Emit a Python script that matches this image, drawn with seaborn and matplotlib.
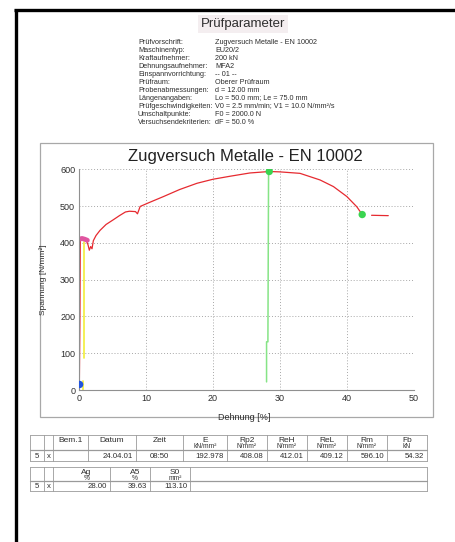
import numpy as np
import pandas as pd
import matplotlib
matplotlib.use("Agg")
import matplotlib.pyplot as plt
import seaborn as sns
from matplotlib.patches import Rectangle

sns.set_style("white")
plt.rcParams['font.family'] = ['Liberation Sans', 'DejaVu Sans']

# --- test parameters (header block) ---
param_labels = ["Prüfvorschrift:", "Maschinentyp:", "Kraftaufnehmer:", "Dehnungsaufnehmer:",
                "Einspannvorrichtung:", "Prüfraum:", "Probenabmessungen:", "Längenangaben:",
                "Prüfgeschwindigkeiten:", "Umschaltpunkte:", "Versuchsendekriterien:"]
param_values = ["Zugversuch Metalle - EN 10002", "EU20/2", "200 kN", "MFA2", "-- 01 --",
                "Oberer Prüfraum", "d = 12.00 mm", "Lo = 50.0 mm; Le = 75.0 mm",
                "V0 = 2.5 mm/min; V1 = 10.0 N/mm²/s", "F0 = 2000.0 N", "dF = 50.0 %"]

# --- stress-strain curve ---
strain_main = [0.0, 0.1, 0.15, 0.5, 1.0, 1.3, 1.5, 1.7, 1.9, 2.1, 2.5, 3.1, 4.0, 5.1, 6.0, 6.9,
               7.5, 8.4, 8.7, 9.1, 10.5, 12.6, 15.0, 17.6, 20.0, 22.5, 25.5, 28.4, 30.0, 33.0,
               36.0, 38.0, 40.0, 41.5, 42.3]
stress_main = [0, 200, 408, 410, 409, 395, 380, 390, 384, 406, 420, 434, 450, 463, 474, 484,
               486, 485, 479, 499, 510, 526, 545, 562, 573, 581, 590, 594, 593, 589,
               571, 553, 526, 498, 477]
strain_tail = [43.7, 46.2]
stress_tail = [475, 474]

strain_pink = [0.05, 0.4, 0.8, 1.2]
stress_pink = [410, 412, 410, 407]

strain_yellow = [0.7, 0.7]
stress_yellow = [403, 87]
strain_yellow2 = [0.6, 0.6]
stress_yellow2 = [0, 25]

strain_green = [28.3, 28.2, 28.0, 28.0]
stress_green = [594, 131, 131, 22]

strain_points = [28.4, 42.3]
stress_points = [594, 477]
strain_start = [0.05]
stress_start = [15]

x_ticks = [0, 10, 20, 30, 40, 50]
y_ticks = [0, 100, 200, 300, 400, 500, 600]

# --- result tables ---
t1_head = ["", "", "Bem.1", "Datum", "Zeit", "E", "Rp2", "ReH", "ReL", "Rm", "Fb"]
t1_units = ["", "", "", "", "", "kN/mm²", "N/mm²", "N/mm²", "N/mm²", "N/mm²", "kN"]
t1_row = ["5", "x", "", "24.04.01", "08:50", "192.978", "408.08", "412.01", "409.12", "596.10", "54.32"]
t2_head = ["", "", "Ag", "A5", "S0", ""]
t2_units = ["", "", "%", "%", "mm²", ""]
t2_row = ["5", "x", "28.00", "39.63", "113.10", ""]

W, H = 455, 542
fig = plt.figure(figsize=(W / 100, H / 100), dpi=100)

# background layer in pixel coordinates
bg = fig.add_axes([0, 0, 1, 1])
bg.set_xlim(0, W)
bg.set_ylim(H, 0)
bg.axis("off")

txt = "#2e2e2e"
# page border from the scan
bg.plot([14, W], [9.5, 9.5], color="black", lw=2.4, solid_capstyle="butt")
bg.plot([15.5, 15.5], [9, H], color="black", lw=2.4, solid_capstyle="butt")

bg.text(243, 24, "Prüfparameter", ha="center", va="center", fontsize=9.5, color=txt,
        bbox=dict(boxstyle="square,pad=0.25", fc="#f4eef0", ec="none"))
for i, (lab, val) in enumerate(zip(param_labels, param_values)):
    y = 42 + 8 * i
    bg.text(138, y, lab, ha="left", va="center", fontsize=5.2, color=txt)
    bg.text(215, y, val, ha="left", va="center", fontsize=5.2, color=txt)

# chart frame
bg.add_patch(Rectangle((40, 143), 393, 274, fill=False, ec="#a8a8a8", lw=0.9))

# tables
lc = "#9a9a9a"


def draw_table(edges, top, mid, bottom, head, units, row, aligns, hshift=0):
    bg.plot([edges[0], edges[-1]], [top, top], color=lc, lw=0.6)
    bg.plot([edges[0], edges[-1]], [mid, mid], color=lc, lw=0.9)
    bg.plot([edges[0], edges[-1]], [bottom, bottom], color=lc, lw=0.6)
    for e in edges:
        bg.plot([e, e], [top, bottom], color=lc, lw=0.6)
    for j in range(len(head)):
        cx = (edges[j] + edges[j + 1]) / 2
        bg.text(cx + hshift, top + 5, head[j], ha="center", va="center", fontsize=6, color=txt)
        bg.text(cx + hshift, top + 12, units[j], ha="center", va="center", fontsize=4.8, color=txt)
        ry = (mid + bottom) / 2 + 0.5
        if aligns[j] == "r":
            bg.text(edges[j + 1] - 3, ry, row[j], ha="right", va="center", fontsize=5.6, color=txt)
        else:
            bg.text(cx, ry, row[j], ha="center", va="center", fontsize=5.6, color=txt)


t1_edges = [30, 44, 53, 88, 136, 183, 227, 267, 307, 347, 387, 427]
draw_table(t1_edges, 435, 450, 461, t1_head, t1_units, t1_row,
           ["c", "c", "c", "r", "c", "r", "r", "r", "r", "r", "r"])
t2_edges = [30, 44, 53, 110, 150, 190, 427]
draw_table(t2_edges, 467, 481, 491, t2_head, t2_units, t2_row,
           ["c", "c", "r", "r", "r", "c"], hshift=5)

# --- the diagram ---
x0, x1, y0, y1 = 79.3, 413.7, 390.0, 169.3
ax = fig.add_axes([x0 / W, 1 - y0 / H, (x1 - x0) / W, (y0 - y1) / H])
ax.patch.set_alpha(0)

red = "#e62a30"
sns.lineplot(x=strain_main, y=stress_main, sort=False, estimator=None, color=red, lw=0.9, ax=ax)
sns.lineplot(x=strain_tail, y=stress_tail, sort=False, estimator=None, color=red, lw=0.9, ax=ax)
sns.lineplot(x=strain_yellow, y=stress_yellow, sort=False, estimator=None, color="#f2ee3a", lw=1.2, ax=ax)
sns.lineplot(x=strain_yellow2, y=stress_yellow2, sort=False, estimator=None, color="#f2ee3a", lw=1.2, ax=ax)
sns.lineplot(x=strain_green, y=stress_green, sort=False, estimator=None, color="#86e486", lw=1.1, ax=ax)
sns.lineplot(x=strain_pink, y=stress_pink, sort=False, estimator=None, color="#e055a0", lw=3.5, ax=ax)
sns.scatterplot(x=strain_points, y=stress_points, color="#3ad450", s=28, edgecolor="none", ax=ax, zorder=5)
sns.scatterplot(x=strain_start, y=stress_start, color="#2255dd", s=28, edgecolor="none", ax=ax, zorder=5)

ax.set_xlim(0, 50)
ax.set_ylim(0, 600)
ax.set_xticks(x_ticks)
ax.set_yticks(y_ticks)
ax.grid(True, linestyle=(0, (1, 2)), color="#a8a8a8", lw=0.7)
ax.tick_params(length=0, labelsize=6.5, labelcolor=txt, pad=3)
for s in ["top", "right"]:
    ax.spines[s].set_visible(False)
for s in ["left", "bottom"]:
    ax.spines[s].set_color("#909090")
    ax.spines[s].set_linewidth(0.8)

ax.set_xlabel("Dehnung [%]", fontsize=6.5, color=txt)
ax.set_ylabel("Spannung [N/mm²]", fontsize=6, color=txt)
ax.xaxis.set_label_coords((244 - x0) / (x1 - x0), -(413 - y0) / (y0 - y1))
ax.yaxis.set_label_coords((47 - x0) / (x1 - x0), 0.5)
ax.text((245 - x0) / (x1 - x0), (y0 - 157) / (y0 - y1), "Zugversuch Metalle - EN 10002",
        transform=ax.transAxes, ha="center", va="center", fontsize=12, color="#222222")

fig.savefig("out.png", dpi=100)
